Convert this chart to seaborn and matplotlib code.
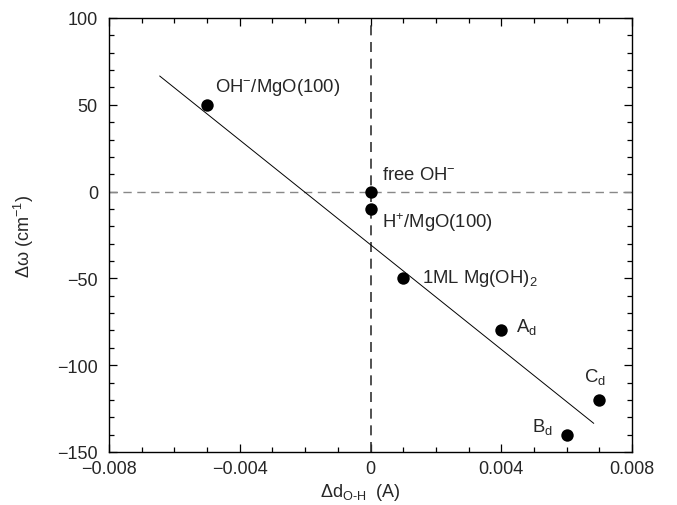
import matplotlib
matplotlib.use("Agg")
import matplotlib.pyplot as plt
import seaborn as sns
import pandas as pd
from matplotlib.ticker import MultipleLocator, FixedLocator, FixedFormatter

# ---- data ----
labels = [r"OH$^{-}$/MgO(100)", r"free OH$^{-}$", r"H$^{+}$/MgO(100)",
          r"1ML Mg(OH)$_{2}$", r"A$_{\mathrm{d}}$", r"B$_{\mathrm{d}}$", r"C$_{\mathrm{d}}$"]
dx = [-0.005, 0.0, 0.0, 0.001, 0.004, 0.006, 0.007]
dw = [50, 0, -10, -50, -80, -140, -120]
label_x = [-0.00477, 0.00036, 0.00036, 0.00158, 0.00446, 0.00495, 0.00654]
label_y = [60.8, 10.1, -17.3, -49.2, -77.2, -135, -106]
fit_x = [-0.00645, 0.00683]
fit_y = [66.6, -133.5]
xticks = [-0.008, -0.004, 0.0, 0.004, 0.008]
xticklabels = ["\u22120.008", "\u22120.004", "0", "0.004", "0.008"]
yticks = [-150, -100, -50, 0, 50, 100]
yticklabels = ["\u2212150", "\u2212100", "\u221250", "0", "50", "100"]

sns.set_style("ticks")
plt.rcParams['font.family'] = ['Liberation Sans', 'DejaVu Sans']
plt.rcParams['mathtext.fontset'] = 'custom'
plt.rcParams['mathtext.rm'] = 'Liberation Sans'
plt.rcParams['mathtext.it'] = 'Liberation Sans:italic'
plt.rcParams['mathtext.bf'] = 'Liberation Sans:bold'
plt.rcParams['mathtext.default'] = 'regular'

fig = plt.figure(figsize=(6.77, 5.06), dpi=100)
ax = fig.add_axes([109/677, 1 - 453/506, (632-109)/677, (453-19)/506])

ax.axhline(0, color="#888888", lw=1.0, ls=(0, (6, 4)), zorder=1)
ax.axvline(0, color="#333333", lw=1.2, ls=(0, (6, 4)), zorder=1)

df_fit = pd.DataFrame({"x": fit_x, "y": fit_y})
sns.lineplot(data=df_fit, x="x", y="y", ax=ax, color="black", lw=0.7, zorder=2)

df = pd.DataFrame({"x": dx, "y": dw})
sns.scatterplot(data=df, x="x", y="y", ax=ax, color="black", s=80,
                edgecolor="black", linewidth=0, zorder=3)

for t, tx, ty in zip(labels, label_x, label_y):
    ax.text(tx, ty, t, ha="left", va="center", fontsize=13.3)

ax.set_xlim(-0.008, 0.008)
ax.set_ylim(-150, 100)
ax.xaxis.set_major_locator(FixedLocator(xticks))
ax.xaxis.set_major_formatter(FixedFormatter(xticklabels))
ax.yaxis.set_major_locator(FixedLocator(yticks))
ax.yaxis.set_major_formatter(FixedFormatter(yticklabels))
ax.xaxis.set_minor_locator(MultipleLocator(0.001))
ax.yaxis.set_minor_locator(MultipleLocator(10))
ax.tick_params(which="both", direction="in", top=True, right=True,
               labelsize=13, width=0.9, color="black")
ax.tick_params(which="major", length=6)
ax.tick_params(axis="y", which="major", pad=8)
ax.tick_params(axis="x", which="major", pad=6)
ax.tick_params(which="minor", length=3.5)
for s in ax.spines.values():
    s.set_linewidth(1.0)
    s.set_color("black")

ax.set_xlabel(r"$\Delta$d$_{\mathrm{O\text{-}H}}$  (A)", fontsize=13)
ax.set_ylabel("\u0394\u03c9 (cm$^{-1}$)", fontsize=13)
ax.xaxis.set_label_coords(0.48, -0.067)
ax.yaxis.set_label_coords(-0.140, 0.5)

fig.savefig("out.png", dpi=100)
